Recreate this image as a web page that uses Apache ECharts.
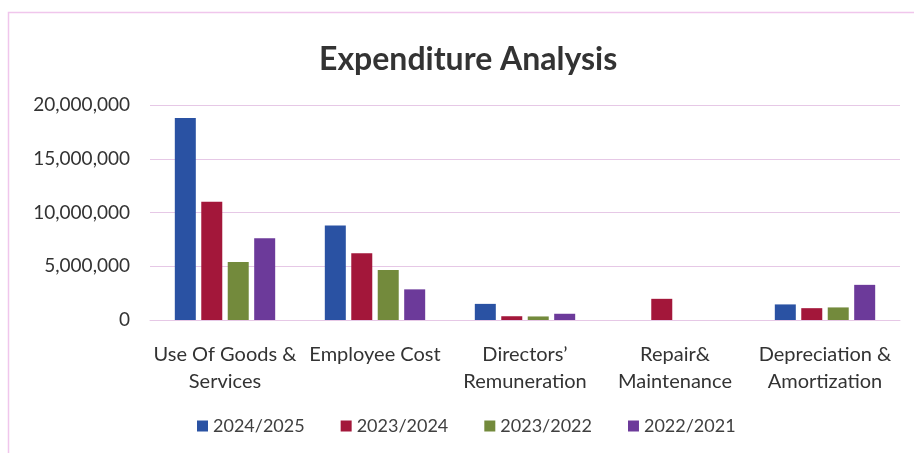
<!DOCTYPE html>
<html><head><meta charset="utf-8">
<script src="https://cdn.jsdelivr.net/npm/echarts@6/dist/echarts.min.js"></script>
<style>html,body{margin:0;padding:0;background:#fff}#c{width:914px;height:453px}</style>
</head><body><div id="c"></div>
<script>
const categories = ["Use Of Goods &\nServices", "Employee Cost", "Directors’\nRemuneration", "Repair&\nMaintenance", "Depreciation &\nAmortization"];
const seriesNames = ["2024/2025", "2023/2024", "2023/2022", "2022/2021"];
const s2024_2025 = [18800000, 8800000, 1500000, 0, 1450000];
const s2023_2024 = [11000000, 6200000, 350000, 1970000, 1100000];
const s2023_2022 = [5400000, 4650000, 330000, 0, 1170000];
const s2022_2021 = [7600000, 2850000, 580000, 0, 3270000];
const yTicks = [0, 5000000, 10000000, 15000000, 20000000];
const colors = ["#2a52a3", "#a3173a", "#738a3c", "#6c3a9a"];
const values = [s2024_2025, s2023_2024, s2023_2022, s2022_2021];
const font = "Lato, 'Open Sans', sans-serif";
const chart = echarts.init(document.getElementById('c'));
chart.setOption({
  animation: false,
  backgroundColor: '#ffffff',
  color: colors,
  graphic: [{type: 'rect', silent: true, z: -1, shape: {x: 8.5, y: 12.5, width: 1000, height: 1000},
    style: {fill: 'none', stroke: '#f0c6ec', lineWidth: 1.5}}],
  title: {text: 'Expenditure Analysis', left: 314, top: 39,
    textStyle: {fontFamily: font, fontSize: 32, fontWeight: 'bold', color: '#333333'}},
  legend: {bottom: 13, left: 192, itemWidth: 11, itemHeight: 11, itemGap: 36, icon: 'rect',
    textStyle: {fontFamily: font, fontSize: 18, color: '#404040'}, data: seriesNames},
  grid: {left: 150, right: 14, top: 105, bottom: 133, containLabel: false},
  xAxis: {type: 'category', data: categories,
    axisLine: {lineStyle: {color: '#e6c8e6'}}, axisTick: {show: false},
    axisLabel: {fontFamily: font, fontSize: 20, color: '#333333', lineHeight: 27, margin: 21, interval: 0}},
  yAxis: {type: 'value', min: 0, max: 20000000, interval: 5000000,
    axisLine: {show: false}, axisTick: {show: false},
    splitLine: {lineStyle: {color: '#e6c8e6'}},
    axisLabel: {fontFamily: font, fontSize: 19, color: '#333333', margin: 20,
      formatter: v => yTicks.includes(v) ? v.toLocaleString('en-US') : ''}},
  series: seriesNames.map((n, i) => ({name: n, type: 'bar', data: values[i],
    barWidth: 21, barGap: '26%', barCategoryGap: '31%', itemStyle: {color: colors[i]}}))
});
</script>
</body></html>
